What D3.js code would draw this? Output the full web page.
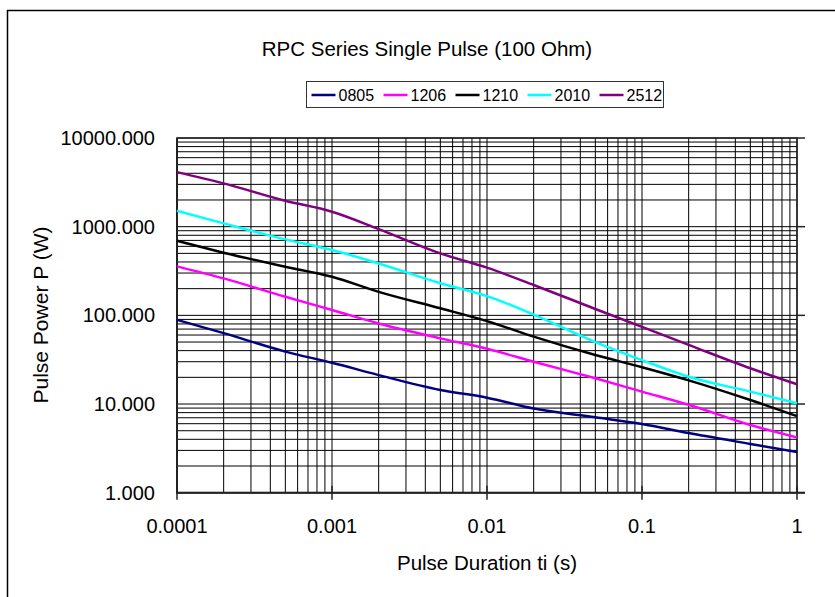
<!DOCTYPE html>
<html>
<head>
<meta charset="utf-8">
<script src="https://cdn.jsdelivr.net/npm/d3@7"></script>
<style>
  body { margin: 0; background: #fff; }
  text { font-family: Arial, "Liberation Sans", sans-serif; fill: #000; }
</style>
</head>
<body>
<svg id="chart" width="835" height="597"></svg>
<script>
// pulse duration (s)
const durations = [0.0001, 0.0002, 0.0005, 0.001, 0.002, 0.005, 0.01, 0.02, 0.05, 0.1, 0.2, 0.5, 1];
const seriesNames = ['0805', '1206', '1210', '2010', '2512'];
const seriesColors = ['#000080', '#ff00ff', '#000000', '#00ffff', '#800080'];
// pulse power (W)
const p0805 = [89, 63, 39, 29.2, 21.2, 14.4, 11.8, 8.9, 7.1, 5.95, 4.7, 3.55, 2.88];
const p1206 = [357, 261, 162, 115, 81, 55, 42, 30, 19.5, 13.8, 9.8, 5.8, 4.2];
const p1210 = [693, 508, 353, 272, 184, 120, 86, 57.5, 35.7, 26, 18.5, 11.1, 7.3];
const p2010 = [1510, 1089, 719, 545, 385, 230, 165, 102, 50, 31.3, 20.3, 13.8, 10.2];
const p2512 = [4125, 3078, 1959, 1473, 940, 500, 345, 220, 118, 74, 46.5, 25.3, 16.7];
const xTickValues = [0.0001, 0.001, 0.01, 0.1, 1];
const xTickLabels = ['0.0001', '0.001', '0.01', '0.1', '1'];
const yTickValues = [1, 10, 100, 1000, 10000];

const powers = [p0805, p1206, p1210, p2010, p2512];

const svg = d3.select('#chart');
const plotL = 177, plotR = 797, plotT = 138, plotB = 492.7;

const x = d3.scaleLog().domain([0.0001, 1]).range([plotL, plotR]);
const y = d3.scaleLog().domain([1, 10000]).range([plotB, plotT]);

// outer chart border
svg.append('rect')
    .attr('x', 7.5).attr('y', 10.5)
    .attr('width', 840).attr('height', 600)
    .attr('fill', 'none')
    .attr('stroke', '#000')
    .attr('stroke-width', 1.5);

// grid
const grid = svg.append('g');
grid.selectAll('.vgrid')
    .data(x.ticks())
    .enter()
    .append('line')
    .attr('x1', (d) => x(d)).attr('x2', (d) => x(d))
    .attr('y1', plotT).attr('y2', plotB)
    .attr('stroke', '#000').attr('stroke-width', 1);
grid.selectAll('.hgrid')
    .data(y.ticks())
    .enter()
    .append('line')
    .attr('x1', plotL).attr('x2', plotR)
    .attr('y1', (d) => y(d)).attr('y2', (d) => y(d))
    .attr('stroke', '#000').attr('stroke-width', 1);

// plot frame
svg.append('rect')
    .attr('x', plotL).attr('y', plotT)
    .attr('width', plotR - plotL).attr('height', plotB - plotT)
    .attr('fill', 'none').attr('stroke', '#222').attr('stroke-width', 1.5);
svg.append('line')
    .attr('x1', plotL).attr('x2', plotL).attr('y1', plotT).attr('y2', plotB + 1)
    .attr('stroke', '#222').attr('stroke-width', 2);
svg.append('line')
    .attr('x1', plotL).attr('x2', plotR + 8).attr('y1', plotB).attr('y2', plotB)
    .attr('stroke', '#222').attr('stroke-width', 2);

// x ticks (crossing the axis)
svg.selectAll('.xtick')
    .data(xTickValues)
    .enter()
    .append('line')
    .attr('x1', (d) => x(d)).attr('x2', (d) => x(d))
    .attr('y1', plotB - 7).attr('y2', plotB + 7)
    .attr('stroke', '#222').attr('stroke-width', 1.5);
svg.selectAll('.xlab')
    .data(xTickValues)
    .enter()
    .append('text')
    .attr('x', (d) => x(d)).attr('y', 533)
    .attr('text-anchor', 'middle')
    .attr('font-size', 20)
    .text((d, i) => xTickLabels[i]);

// y ticks on the right, labels on the left
svg.selectAll('.ytick')
    .data(yTickValues)
    .enter()
    .append('line')
    .attr('x1', plotR).attr('x2', plotR + 8)
    .attr('y1', (d) => y(d)).attr('y2', (d) => y(d))
    .attr('stroke', '#222').attr('stroke-width', 1.5);
svg.selectAll('.ylab')
    .data(yTickValues)
    .enter()
    .append('text')
    .attr('x', 155).attr('y', (d) => y(d) + 7)
    .attr('text-anchor', 'end')
    .attr('font-size', 20)
    .text((d) => d3.format('.3f')(d));

// series
const line = d3.line()
    .x((d) => x(d[0]))
    .y((d) => y(d[1]))
    .curve(d3.curveMonotoneX);
powers.forEach((vals, i) => {
    svg.append('path')
        .datum(durations.map((t, j) => [t, vals[j]]))
        .attr('d', line)
        .attr('fill', 'none')
        .attr('stroke', seriesColors[i])
        .attr('stroke-width', 2.5);
});

// titles
svg.append('text')
    .attr('x', 427).attr('y', 56)
    .attr('text-anchor', 'middle')
    .attr('font-size', 20.5)
    .text('RPC Series Single Pulse (100 Ohm)');
svg.append('text')
    .attr('x', 487).attr('y', 570)
    .attr('text-anchor', 'middle')
    .attr('font-size', 20.5)
    .text('Pulse Duration ti (s)');
svg.append('text')
    .attr('transform', 'translate(48,315) rotate(-90)')
    .attr('text-anchor', 'middle')
    .attr('font-size', 21)
    .text('Pulse Power P (W)');

// legend
const legend = svg.append('g');
legend.append('rect')
    .attr('x', 306.5).attr('y', 81.5)
    .attr('width', 357).attr('height', 26)
    .attr('fill', '#fff').attr('stroke', '#333').attr('stroke-width', 1);
const items = legend.selectAll('.item')
    .data(seriesNames)
    .enter()
    .append('g')
    .attr('transform', (d, i) => `translate(${311.5 + i * 72},95)`);
items.append('line')
    .attr('x1', 0).attr('x2', 24)
    .attr('stroke', (d, i) => seriesColors[i])
    .attr('stroke-width', 2.5);
items.append('text')
    .attr('x', 27).attr('y', 6)
    .attr('font-size', 16)
    .text((d) => d);
</script>
</body>
</html>
